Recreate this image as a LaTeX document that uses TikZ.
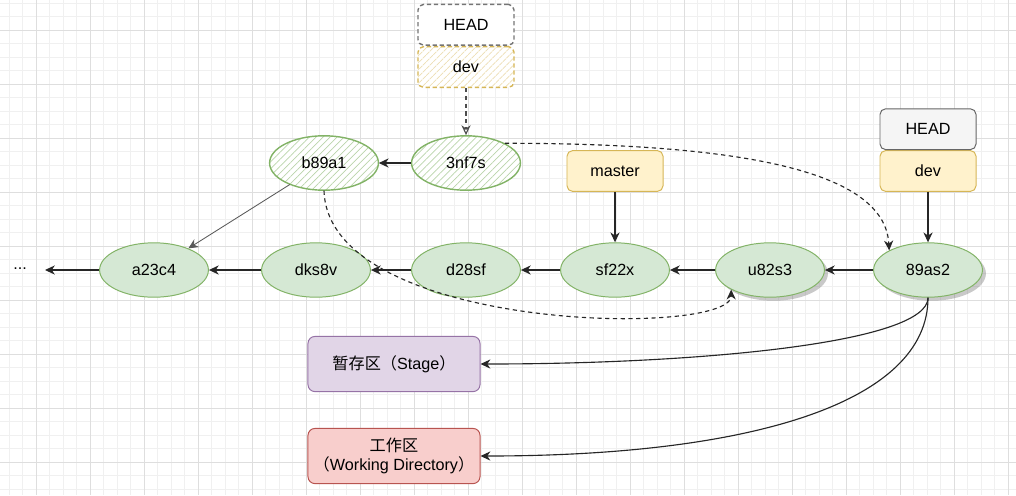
\documentclass[tikz,border=0pt]{standalone}
\usepackage{fontspec}
\setmainfont{Liberation Sans}
\newfontfamily\cjk{Noto Sans CJK SC}
\usepackage{tikz}
\usetikzlibrary{arrows.meta, positioning, shapes.geometric, shadows, patterns.meta}
\usepackage{xcolor}

\definecolor{greenfill}{HTML}{D5E8D4}
\definecolor{greenline}{HTML}{82B366}
\definecolor{yellowfill}{HTML}{FFF2CC}
\definecolor{yellowline}{HTML}{D6B656}
\definecolor{grayfill}{HTML}{F5F5F5}
\definecolor{grayline}{HTML}{666666}
\definecolor{purplefill}{HTML}{E1D5E7}
\definecolor{purpleline}{HTML}{9673A6}
\definecolor{redfill}{HTML}{F8CECC}
\definecolor{redline}{HTML}{B85450}

\tikzset{
  gridminor/.style={draw=black!6, line width=0.4pt},
  gridmajor/.style={draw=black!13, line width=0.5pt},
  commit/.style={ellipse, draw=greenline, fill=greenfill, line width=0.7pt,
    minimum width=2.72cm, minimum height=1.36cm, inner sep=0pt},
  oldcommit/.style={commit, line width=1pt, preaction={fill=white},
    pattern={Lines[angle=45, distance=3.5pt, line width=0.5pt]}, pattern color=greenline!55},
  shadowed/.style={drop shadow={shadow xshift=2.5pt, shadow yshift=-2.5pt, opacity=0.35, fill=black!60}},
  branch/.style={rectangle, rounded corners=4pt, draw=yellowline, fill=yellowfill,
    line width=0.7pt, minimum width=2.4cm, minimum height=1.02cm, inner sep=0pt},
  headbox/.style={branch, draw=grayline, fill=grayfill},
  oldbranch/.style={branch, dash pattern=on 3pt off 2pt, line width=1pt, preaction={fill=white},
    pattern={Lines[angle=45, distance=3.5pt, line width=0.5pt]}, pattern color=yellowline!45},
  oldhead/.style={branch, draw=grayline!90, dash pattern=on 3pt off 2pt, line width=1pt, fill=white},
  area/.style={rectangle, rounded corners=5pt, line width=0.7pt, align=center,
    minimum width=4.3cm, minimum height=1.38cm, inner sep=0pt},
  link/.style={draw=black!85, line width=0.8pt, -{Stealth[length=7pt, width=6.5pt, inset=2.2pt]}},
  dashlink/.style={link, dash pattern=on 3pt off 2.5pt}
}

\begin{document}
\begin{tikzpicture}[x=0.025cm, y=-0.025cm, font=\fontsize{11.5}{14}\selectfont]
  \useasboundingbox (0,0) rectangle (1016,495);
  \fill[white] (0,0) rectangle (1016,495);

  % background grid
  \foreach \i in {0,...,74}
    \draw[gridminor] ({9+13.5*\i},0) -- ({9+13.5*\i},495);
  \foreach \j in {0,...,36}
    \draw[gridminor] (0,{3+13.5*\j}) -- (1016,{3+13.5*\j});
  \foreach \i in {0,...,18}
    \draw[gridmajor] ({36+54*\i},0) -- ({36+54*\i},495);
  \foreach \j in {0,...,8}
    \draw[gridmajor] (0,{30+54*\j}) -- (1016,{30+54*\j});

  % commits
  \node[commit] (a23c4) at (154,270) {a23c4};
  \node[commit] (dks8v) at (316,270) {dks8v};
  \node[commit] (d28sf) at (466,270) {d28sf};
  \node[commit] (sf22x) at (615,270) {sf22x};
  \node[commit, shadowed] (u82s3) at (770,270) {u82s3};
  \node[commit, shadowed] (89as2) at (928,270) {89as2};
  \node[oldcommit] (b89a1) at (324,163) {b89a1};
  \node[oldcommit] (3nf7s) at (466,163) {3nf7s};
  \node (dots) at (20,269) {...};
  \coordinate (dotsend) at (45,270);

  % branches
  \node[branch] (master) at (615,171) {master};
  \node[branch] (dev) at (928,171) {dev};
  \node[headbox, above=0pt of dev] (head) {HEAD};
  \node[oldbranch] (olddev) at (466,67) {dev};
  \node[oldhead, above=0pt of olddev] (oldhead) {HEAD};

  % areas
  \node[area, draw=purpleline, fill=purplefill] (stage) at (394,364)
    {{\cjk 暂存区（}Stage{\cjk ）}};
  \node[area, draw=redline, fill=redfill] (work) at (394,456)
    {{\cjk 工作区}\\{\cjk （}Working Directory{\cjk ）}};

  % history
  \foreach \a/\b in {89as2/u82s3, u82s3/sf22x, sf22x/d28sf, d28sf/dks8v, dks8v/a23c4, a23c4/dotsend}
    \draw[link] (\a) -- (\b);
  \draw[link] (3nf7s) -- (b89a1);
  \draw[link, draw=black!65, line width=0.6pt] (b89a1) -- (a23c4);
  \draw[link] (master) -- (sf22x);
  \draw[link] (dev) -- (89as2);

  % old pointers
  \draw[dashlink, draw=black!70, -{Stealth[open, length=7pt, width=6.5pt]}] (olddev) -- (3nf7s);
  \draw[dashlink] (3nf7s.north east) .. controls +(255,0) and +(-4,-75) .. (89as2.north west);
  \draw[dashlink] (b89a1.south) .. controls +(4,142) and +(0,48) .. (u82s3.south west);

  % working tree
  \draw[link] (89as2.south) .. controls +(0,45) and +(220,0) .. (stage.east);
  \draw[link] (89as2.south) .. controls +(0,105) and +(270,0) .. (work.east);
\end{tikzpicture}
\end{document}
